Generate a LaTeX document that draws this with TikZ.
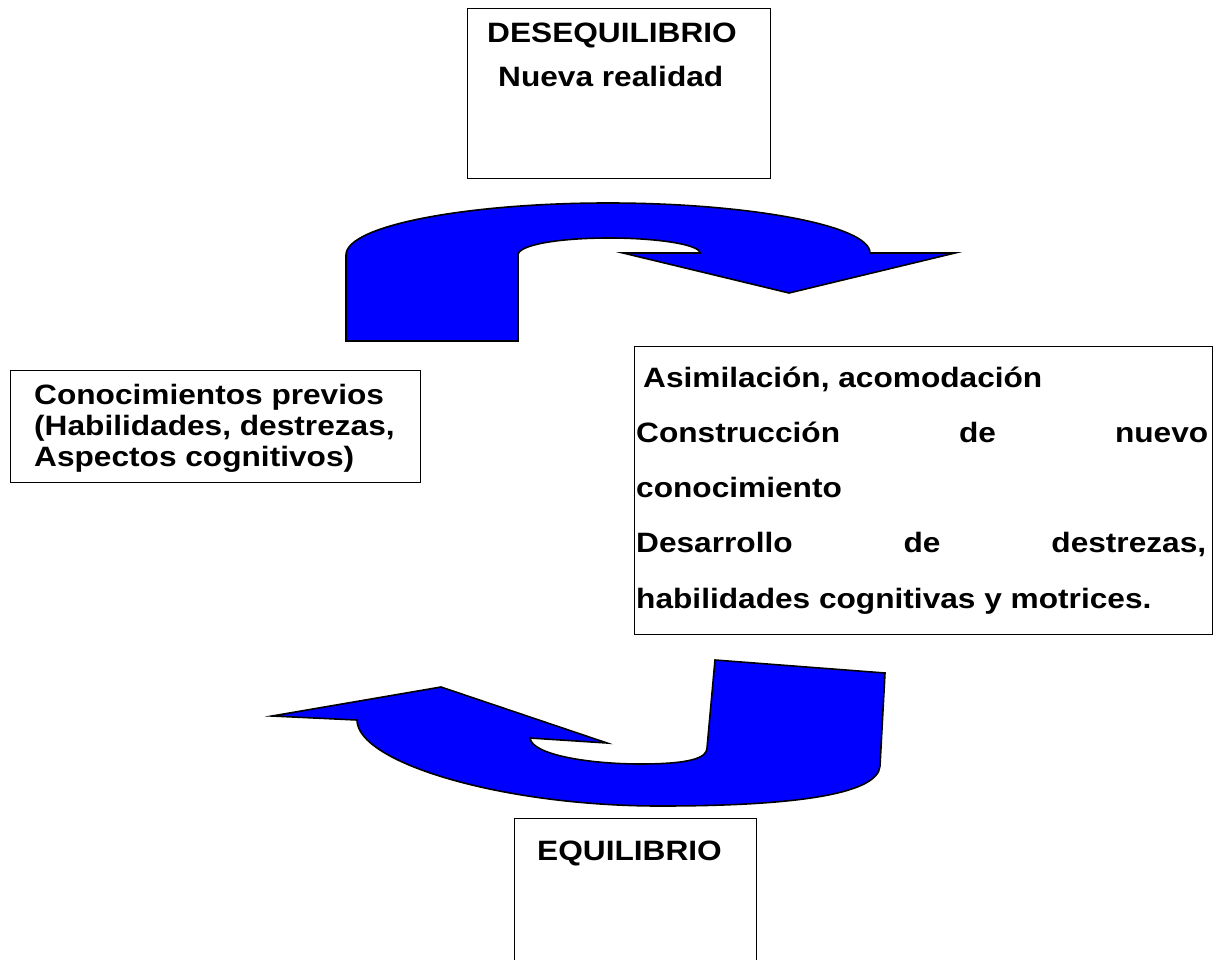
\documentclass[tikz,border=0pt]{standalone}
\usepackage{fontspec}
\newfontfamily\arx{Liberation Sans}[FakeStretch=1.13]
\begin{document}
\begin{tikzpicture}[x=1pt,y=-1pt,
  box/.style={draw, line width=1.3pt, inner sep=0pt, anchor=north west},
  txt/.style={inner sep=0pt, anchor=base west, font=\arx\bfseries\fontsize{28}{28}\selectfont},
  bigarrow/.style={fill=blue, draw=black, line width=1.6pt, line join=miter}]
\useasboundingbox (0,0) rectangle (1217,960);
\fill[white] (0,0) rectangle (1217,960);

% boxes
\node[box, minimum width=303pt, minimum height=170pt] (top) at (467,8) {};
\node[box, minimum width=410pt, minimum height=112pt] (left) at (10,370) {};
\node[box, minimum width=578pt, minimum height=288pt] (right) at (634,346) {};
\begin{scope}
\clip (0,0) rectangle (1217,960);
\node[box, minimum width=242pt, minimum height=160pt] (bottom) at (514,818) {};
\end{scope}

% texts
\node[txt] (t1) at (487,43) {DESEQUILIBRIO};
\node[txt] (t2) at (498,87) {Nueva realidad};
\node[txt] (l1) at (34,404) {Conocimientos previos};
\node[txt] (l2) at (34,435) {(Habilidades, destrezas,};
\node[txt] (l3) at (34,466) {Aspectos cognitivos)};
\node[txt] (r1) at (643,387) {Asimilación, acomodación};
\node[txt] (r2) at (636,442) {\makebox[572pt][s]{Construcción de nuevo}};
\node[txt] (r3) at (636,497) {conocimiento};
\node[txt] (r4) at (636,552) {\makebox[570pt][s]{Desarrollo de destrezas,}};
\node[txt] (r5) at (636,608) {habilidades cognitivas y motrices.};
\node[txt] (b1) at (537,860) {EQUILIBRIO};

% top curved arrow
\draw[bigarrow] (346,341) -- (346,255)
  .. controls (346,225) and (470,203) .. (608,203)
  .. controls (746,203) and (870,225) .. (870,253)
  -- (955,253) -- (789,293) -- (623,253) -- (700,253)
  .. controls (700,245) and (660,238) .. (609,238)
  .. controls (558,238) and (518,245) .. (518,255)
  -- (518,341) -- cycle;

% bottom curved arrow
\draw[bigarrow] (715,660) -- (885,673) -- (880,766)
  .. controls (878,795) and (790,806) .. (660,806)
  .. controls (500,806) and (357,762) .. (357,720)
  -- (272,716) -- (441,687) -- (607,743) -- (530,738)
  .. controls (532,755) and (590,764) .. (640,764)
  .. controls (690,764) and (707,758) .. (707,748)
  -- cycle;
\end{tikzpicture}
\end{document}
